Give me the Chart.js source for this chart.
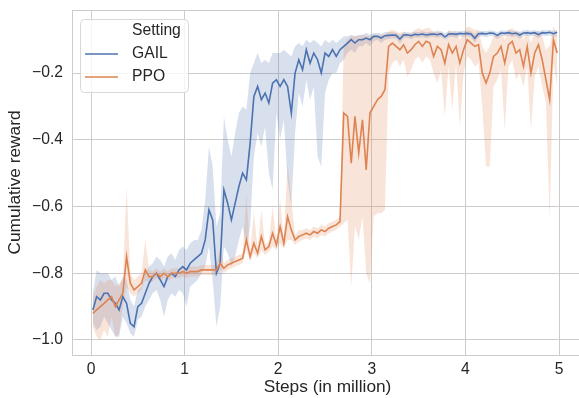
<!DOCTYPE html>
<html>
<head>
<meta charset="utf-8">
<script src="https://cdn.jsdelivr.net/npm/chart.js@4.4.0/dist/chart.umd.min.js"></script>
<style>
  html, body { margin: 0; padding: 0; background: #fff; overflow: hidden; }
  #wrap { width: 583px; height: 398px; }
</style>
</head>
<body>
<div id="wrap"><canvas id="chart" width="583" height="398"></canvas></div>
<script>
// steps in million
const steps = [
  0.02,0.06,0.10,0.14,0.18,0.22,0.26,0.30,0.34,0.38,
  0.42,0.46,0.50,0.54,0.58,0.62,0.66,0.70,0.74,0.78,
  0.82,0.86,0.90,0.94,0.98,1.02,1.06,1.10,1.14,1.18,
  1.22,1.26,1.30,1.34,1.38,1.42,1.46,1.50,1.54,1.58,
  1.62,1.66,1.70,1.74,1.78,1.82,1.86,1.90,1.94,1.98,
  2.02,2.06,2.10,2.14,2.18,2.22,2.26,2.30,2.34,2.38,
  2.42,2.46,2.50,2.54,2.58,2.62,2.66,2.70,2.74,2.78,
  2.82,2.86,2.90,2.94,2.98,3.02,3.06,3.10,3.14,3.18,
  3.22,3.26,3.30,3.34,3.38,3.42,3.46,3.50,3.54,3.58,
  3.62,3.66,3.70,3.74,3.78,3.82,3.86,3.90,3.94,3.98,
  4.02,4.06,4.10,4.14,4.18,4.22,4.26,4.30,4.34,4.38,
  4.42,4.46,4.50,4.54,4.58,4.62,4.66,4.70,4.74,4.78,
  4.82,4.86,4.90,4.94,4.98
];

const gailMean = [
  -0.91,-0.87,-0.88,-0.86,-0.86,-0.88,-0.89,-0.91,-0.87,-0.89,
  -0.95,-0.96,-0.90,-0.89,-0.86,-0.83,-0.81,-0.80,-0.82,-0.84,
  -0.81,-0.80,-0.81,-0.79,-0.78,-0.79,-0.77,-0.76,-0.75,-0.74,
  -0.70,-0.61,-0.64,-0.80,-0.77,-0.55,-0.59,-0.64,-0.59,-0.54,
  -0.50,-0.52,-0.41,-0.27,-0.24,-0.28,-0.26,-0.29,-0.23,-0.22,
  -0.24,-0.22,-0.24,-0.32,-0.20,-0.16,-0.19,-0.13,-0.17,-0.14,
  -0.16,-0.20,-0.14,-0.15,-0.13,-0.15,-0.13,-0.12,-0.11,-0.10,
  -0.11,-0.10,-0.10,-0.095,-0.10,-0.09,-0.09,-0.095,-0.088,-0.087,
  -0.086,-0.087,-0.098,-0.086,-0.085,-0.088,-0.084,-0.085,-0.083,-0.086,
  -0.084,-0.083,-0.085,-0.082,-0.092,-0.083,-0.082,-0.084,-0.081,-0.082,
  -0.081,-0.083,-0.096,-0.082,-0.081,-0.083,-0.080,-0.081,-0.087,-0.080,
  -0.081,-0.079,-0.082,-0.080,-0.086,-0.080,-0.079,-0.081,-0.079,-0.085,
  -0.079,-0.080,-0.078,-0.082,-0.078
];
const gailLow = [
  -0.95,-0.97,-0.96,-0.93,-0.95,-0.97,-0.99,-0.99,-0.93,-0.95,
  -0.98,-0.99,-0.94,-0.93,-0.90,-0.88,-0.86,-0.85,-0.88,-0.93,
  -0.88,-0.86,-0.87,-0.85,-0.86,-0.90,-0.84,-0.83,-0.82,-0.80,
  -0.78,-0.72,-0.82,-0.96,-0.90,-0.72,-0.74,-0.78,-0.75,-0.70,
  -0.66,-0.72,-0.66,-0.45,-0.38,-0.42,-0.36,-0.50,-0.55,-0.32,
  -0.40,-0.34,-0.52,-0.60,-0.38,-0.26,-0.30,-0.22,-0.28,-0.24,
  -0.45,-0.48,-0.26,-0.22,-0.20,-0.20,-0.17,-0.16,-0.14,-0.13,
  -0.14,-0.12,-0.12,-0.11,-0.12,-0.105,-0.10,-0.11,-0.10,-0.098,
  -0.096,-0.097,-0.112,-0.095,-0.094,-0.099,-0.093,-0.094,-0.092,-0.096,
  -0.093,-0.092,-0.095,-0.091,-0.105,-0.092,-0.091,-0.094,-0.090,-0.091,
  -0.090,-0.093,-0.110,-0.091,-0.090,-0.093,-0.089,-0.090,-0.098,-0.089,
  -0.090,-0.088,-0.092,-0.089,-0.097,-0.089,-0.088,-0.090,-0.088,-0.096,
  -0.088,-0.089,-0.087,-0.092,-0.087
];
const gailHigh = [
  -0.86,-0.79,-0.80,-0.80,-0.80,-0.82,-0.81,-0.84,-0.81,-0.82,
  -0.88,-0.90,-0.85,-0.84,-0.80,-0.78,-0.77,-0.75,-0.76,-0.78,
  -0.75,-0.74,-0.76,-0.73,-0.72,-0.73,-0.71,-0.70,-0.70,-0.67,
  -0.58,-0.42,-0.48,-0.66,-0.62,-0.33,-0.40,-0.45,-0.38,-0.32,
  -0.30,-0.31,-0.20,-0.17,-0.14,-0.17,-0.16,-0.17,-0.14,-0.14,
  -0.14,-0.13,-0.14,-0.15,-0.12,-0.11,-0.12,-0.10,-0.11,-0.10,
  -0.11,-0.12,-0.10,-0.11,-0.10,-0.11,-0.10,-0.09,-0.09,-0.085,
  -0.09,-0.085,-0.085,-0.08,-0.085,-0.08,-0.08,-0.082,-0.078,-0.077,
  -0.078,-0.079,-0.086,-0.078,-0.077,-0.079,-0.076,-0.077,-0.075,-0.078,
  -0.076,-0.075,-0.077,-0.074,-0.081,-0.075,-0.074,-0.076,-0.073,-0.074,
  -0.073,-0.075,-0.084,-0.074,-0.073,-0.075,-0.072,-0.073,-0.078,-0.072,
  -0.073,-0.071,-0.074,-0.072,-0.077,-0.072,-0.071,-0.073,-0.071,-0.076,
  -0.071,-0.072,-0.070,-0.074,-0.070
];

const ppoMean = [
  -0.92,-0.91,-0.90,-0.89,-0.88,-0.87,-0.90,-0.88,-0.86,-0.75,
  -0.83,-0.85,-0.84,-0.83,-0.79,-0.81,-0.81,-0.80,-0.81,-0.80,
  -0.81,-0.80,-0.80,-0.80,-0.795,-0.80,-0.795,-0.795,-0.795,-0.79,
  -0.79,-0.79,-0.79,-0.79,-0.77,-0.785,-0.775,-0.77,-0.765,-0.76,
  -0.755,-0.70,-0.75,-0.71,-0.74,-0.69,-0.73,-0.72,-0.68,-0.715,
  -0.66,-0.71,-0.63,-0.67,-0.70,-0.69,-0.685,-0.68,-0.685,-0.675,
  -0.68,-0.67,-0.675,-0.665,-0.66,-0.655,-0.645,-0.32,-0.33,-0.47,
  -0.33,-0.44,-0.34,-0.49,-0.32,-0.30,-0.28,-0.27,-0.25,-0.12,
  -0.11,-0.12,-0.13,-0.115,-0.14,-0.13,-0.115,-0.105,-0.12,-0.105,
  -0.11,-0.15,-0.12,-0.13,-0.17,-0.115,-0.14,-0.12,-0.17,-0.13,
  -0.10,-0.11,-0.12,-0.115,-0.20,-0.23,-0.20,-0.15,-0.14,-0.12,
  -0.17,-0.115,-0.105,-0.14,-0.13,-0.18,-0.12,-0.20,-0.14,-0.115,
  -0.16,-0.22,-0.28,-0.10,-0.14
];
const ppoLow = [
  -0.96,-0.99,-1.00,-0.97,-0.99,-0.93,-0.99,-0.98,-0.90,-0.84,
  -0.86,-0.87,-0.86,-0.85,-0.82,-0.83,-0.825,-0.815,-0.825,-0.815,
  -0.825,-0.815,-0.815,-0.815,-0.81,-0.815,-0.81,-0.81,-0.81,-0.805,
  -0.805,-0.805,-0.805,-0.805,-0.79,-0.80,-0.79,-0.785,-0.78,-0.775,
  -0.77,-0.73,-0.765,-0.74,-0.755,-0.73,-0.745,-0.735,-0.72,-0.73,
  -0.71,-0.725,-0.70,-0.70,-0.715,-0.705,-0.70,-0.695,-0.70,-0.69,
  -0.695,-0.685,-0.69,-0.68,-0.675,-0.67,-0.66,-0.65,-0.64,-0.84,
  -0.66,-0.70,-0.63,-0.80,-0.83,-0.63,-0.62,-0.62,-0.61,-0.20,
  -0.17,-0.16,-0.18,-0.16,-0.21,-0.19,-0.16,-0.15,-0.17,-0.15,
  -0.16,-0.20,-0.23,-0.19,-0.33,-0.18,-0.31,-0.17,-0.36,-0.20,
  -0.15,-0.16,-0.18,-0.17,-0.30,-0.48,-0.48,-0.24,-0.22,-0.19,
  -0.37,-0.18,-0.16,-0.22,-0.20,-0.24,-0.18,-0.37,-0.21,-0.18,
  -0.24,-0.29,-0.64,-0.17,-0.24
];
const ppoHigh = [
  -0.87,-0.84,-0.82,-0.83,-0.82,-0.82,-0.84,-0.83,-0.82,-0.54,
  -0.80,-0.82,-0.81,-0.80,-0.70,-0.79,-0.795,-0.785,-0.795,-0.785,
  -0.795,-0.785,-0.785,-0.785,-0.78,-0.785,-0.78,-0.78,-0.78,-0.775,
  -0.775,-0.775,-0.775,-0.775,-0.72,-0.77,-0.76,-0.755,-0.75,-0.745,
  -0.74,-0.56,-0.735,-0.62,-0.725,-0.61,-0.715,-0.705,-0.60,-0.70,
  -0.58,-0.695,-0.47,-0.58,-0.685,-0.67,-0.67,-0.665,-0.67,-0.66,
  -0.665,-0.655,-0.66,-0.65,-0.645,-0.64,-0.63,-0.12,-0.10,-0.09,
  -0.09,-0.09,-0.085,-0.09,-0.09,-0.085,-0.085,-0.085,-0.085,-0.075,
  -0.07,-0.075,-0.08,-0.075,-0.085,-0.08,-0.07,-0.065,-0.07,-0.065,
  -0.065,-0.08,-0.07,-0.08,-0.11,-0.07,-0.08,-0.07,-0.10,-0.08,
  -0.06,-0.065,-0.07,-0.07,-0.12,-0.14,-0.12,-0.09,-0.085,-0.075,
  -0.10,-0.07,-0.065,-0.08,-0.075,-0.10,-0.07,-0.11,-0.08,-0.07,
  -0.09,-0.13,-0.12,-0.06,-0.085
];

const seriesNames = ['GAIL', 'PPO'];
const legendTitle = 'Setting';
const xTicks = [0, 1, 2, 3, 4, 5];
const yTicks = [-1.0, -0.8, -0.6, -0.4, -0.2];

const blue = '#4c72b0';
const orange = '#dd8452';
const ink = '#262626';
const gridColor = '#cccccc';
const fontFamily = '"Liberation Sans", Arial, sans-serif';

const pts = ys => steps.map((x, i) => ({ x: x, y: ys[i] }));

function band(ys, order, fill, color) {
  return {
    data: pts(ys),
    borderWidth: 0,
    borderColor: 'transparent',
    backgroundColor: color,
    pointRadius: 0,
    fill: fill,
    order: order,
  };
}

function line(label, ys, order, color) {
  return {
    label: label,
    data: pts(ys),
    borderColor: color,
    borderWidth: 1.6,
    pointRadius: 0,
    fill: false,
    tension: 0,
    order: order,
  };
}

// keep the plot box fixed, ignore label overhang padding
function noOverhang(s) {
  s.paddingTop = 0;
  s.paddingBottom = 0;
  s.paddingLeft = 0;
  s.paddingRight = 0;
}

// seaborn-ish legend box and top spine
const seabornLegend = {
  id: 'seabornLegend',
  afterDraw(chart) {
    const { ctx, chartArea: a } = chart;
    ctx.save();
    ctx.strokeStyle = gridColor;
    ctx.lineWidth = 1;
    ctx.beginPath();
    ctx.moveTo(a.left, a.top + 0.5);
    ctx.lineTo(a.right, a.top + 0.5);
    ctx.stroke();

    const x = a.left + 8, y = a.top + 9, w = 108, h = 73;
    ctx.beginPath();
    ctx.roundRect(x + 0.5, y + 0.5, w, h, 4);
    ctx.fillStyle = 'rgba(255,255,255,0.8)';
    ctx.fill();
    ctx.strokeStyle = '#d9d9d9';
    ctx.stroke();

    ctx.font = '15.7px ' + fontFamily;
    ctx.textBaseline = 'middle';
    ctx.textAlign = 'left';
    ctx.fillStyle = ink;
    ctx.fillText(legendTitle, x + 52, y + 12);
    const colors = [blue, orange];
    seriesNames.forEach((name, i) => {
      const cy = y + 35 + i * 23;
      ctx.strokeStyle = colors[i];
      ctx.lineWidth = 1.6;
      ctx.beginPath();
      ctx.moveTo(x + 5, cy);
      ctx.lineTo(x + 38, cy);
      ctx.stroke();
      ctx.fillStyle = ink;
      ctx.fillText(name, x + 52, cy);
    });
    ctx.restore();
  }
};

new Chart(document.getElementById('chart'), {
  type: 'line',
  data: {
    datasets: [
      band(gailLow, 3, false, 'transparent'),
      band(gailHigh, 3, 0, 'rgba(76,114,176,0.22)'),
      band(ppoLow, 2, false, 'transparent'),
      band(ppoHigh, 2, 2, 'rgba(221,132,82,0.22)'),
      line(seriesNames[0], gailMean, 1, blue),
      line(seriesNames[1], ppoMean, 0, orange),
    ]
  },
  options: {
    responsive: false,
    animation: false,
    events: [],
    layout: { padding: { top: 10, left: 0, right: 0, bottom: 0 } },
    plugins: {
      legend: { display: false },
      tooltip: { enabled: false },
    },
    scales: {
      x: {
        type: 'linear',
        min: -0.203,
        max: 5.256,
        afterFit: s => { s.height = 43; noOverhang(s); },
        afterBuildTicks: s => { s.ticks = xTicks.map(v => ({ value: v })); },
        ticks: {
          includeBounds: false,
          padding: 5,
          color: ink,
          font: { family: fontFamily, size: 15.7 },
          callback: v => String(v),
        },
        grid: { color: gridColor, lineWidth: 1, drawTicks: false },
        border: { display: true, color: gridColor, width: 1 },
        title: {
          display: true,
          text: 'Steps (in million)',
          color: ink,
          font: { family: fontFamily, size: 17.3 },
          padding: { top: 0, bottom: 0 },
        },
      },
      y: {
        min: -1.045,
        max: -0.011,
        afterFit: s => { s.width = 72; noOverhang(s); },
        afterBuildTicks: s => { s.ticks = yTicks.map(v => ({ value: v })); },
        ticks: {
          includeBounds: false,
          padding: 9,
          color: ink,
          font: { family: fontFamily, size: 15.7 },
          callback: v => v.toFixed(1).replace('-', '\u2212'),
        },
        grid: { color: gridColor, lineWidth: 1, drawTicks: false },
        border: { display: true, color: gridColor, width: 1 },
        title: {
          display: true,
          text: 'Cumulative reward',
          color: ink,
          font: { family: fontFamily, size: 17.3 },
          padding: { top: 5, bottom: 0 },
        },
      },
    },
  },
  plugins: [seabornLegend],
});
</script>
</body>
</html>
